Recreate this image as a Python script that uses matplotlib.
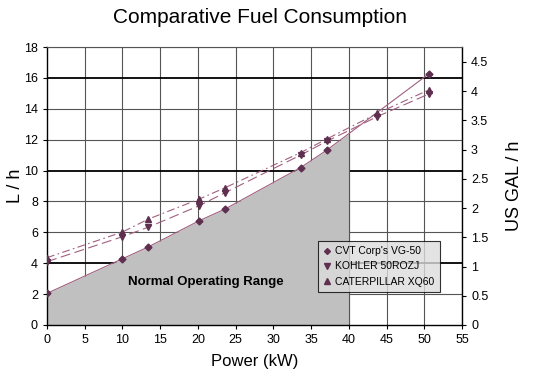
import matplotlib
matplotlib.use('Agg')
import matplotlib.pyplot as plt
from matplotlib.lines import Line2D

# data (power in kW, fuel in L/h)
cvt_kw = [0, 10, 13.4, 20.2, 23.6, 33.6, 37.1, 50.6]
cvt_lph = [2.05, 4.29, 5.05, 6.76, 7.51, 10.19, 11.33, 16.26]

kohler_kw = [0, 10, 13.4, 20.2, 23.6, 33.6, 37.1, 43.8, 50.6]
kohler_lph = [4.1, 5.72, 6.33, 7.73, 8.57, 11.0, 11.9, 13.5, 14.96]

cat_kw = [0, 10, 13.4, 20.2, 23.6, 33.6, 37.1, 43.8, 50.6]
cat_lph = [4.36, 6.02, 6.85, 8.16, 8.89, 11.16, 12.05, 13.71, 15.22]

# shaded "normal operating range" boundary
range_kw = [0, 10, 13.4, 20.2, 23.6, 33.6, 37.1, 40]
range_lph = [2.05, 4.29, 5.05, 6.76, 7.51, 10.19, 11.33, 12.39]

L_PER_GAL = 3.785
x_ticks = list(range(0, 60, 5))
y_ticks = list(range(0, 20, 2))
gal_ticks = [0, 0.5, 1, 1.5, 2, 2.5, 3, 3.5, 4, 4.5]
bold_grid = [4, 10, 16]

plt.rcParams['font.family'] = ['Liberation Sans', 'DejaVu Sans']

fig = plt.figure(figsize=(5.38, 3.81), dpi=100)
ax = fig.add_axes([0.0874, 0.147, 0.7713, 0.7296])

ax.set_xlim(0, 55)
ax.set_ylim(0, 18)

# grid
for x in x_ticks[1:]:
    ax.axvline(x, color='#555555', lw=0.8, zorder=1)
for y in y_ticks[1:]:
    if y in bold_grid:
        ax.axhline(y, color='black', lw=1.3, zorder=1)
    else:
        ax.axhline(y, color='#555555', lw=0.8, zorder=1)

ax.fill_between(range_kw, 0, range_lph, color='#c0c0c0', lw=0, zorder=1.5)
ax.plot([range_kw[-1], range_kw[-1]], [0, range_lph[-1]], color='#555555', lw=0.8, zorder=1.6)

mk = '#5e2f4f'
ln = '#a06080'
ax.plot(cvt_kw, cvt_lph, color=ln, lw=0.8, zorder=3)
ax.plot(kohler_kw, kohler_lph, color=ln, lw=0.8, dashes=(9, 4), zorder=3)
ax.plot(cat_kw, cat_lph, color=ln, lw=0.8, dashes=(7, 3, 1.5, 3), zorder=3)
ax.plot(cvt_kw, cvt_lph, 'D', color=mk, ms=3.5, zorder=4)
ax.plot(kohler_kw, kohler_lph, 'v', color=mk, ms=4.5, zorder=4)
ax.plot(cat_kw, cat_lph, '^', color=mk, ms=4.5, zorder=4)

ax.text(21, 2.8, 'Normal Operating Range', ha='center', va='center',
        fontsize=9.5, fontweight='bold', zorder=5)

ax.set_xticks(x_ticks)
ax.set_yticks(y_ticks)
ax.tick_params(labelsize=9, length=3, direction='out', color='black')
for s in ['left', 'bottom', 'right']:
    ax.spines[s].set_color('black')
    ax.spines[s].set_linewidth(1.0)
ax.spines['top'].set_color('#555555')
ax.spines['top'].set_linewidth(0.8)

ax.set_xlabel('Power (kW)', fontsize=12, labelpad=6)
ax.set_ylabel('L / h', fontsize=13)
ax.yaxis.set_label_coords(-0.055, 0.5)

ax2 = ax.twinx()
ax2.set_ylim(0, 18 / L_PER_GAL)
ax2.set_yticks(gal_ticks)
ax2.set_yticklabels([f'{g:g}' for g in gal_ticks])
ax2.tick_params(labelsize=9, length=3, direction='out')
ax2.set_ylabel('US GAL / h', fontsize=13)
ax2.yaxis.set_label_coords(1.105, 0.5)
for s in ax2.spines.values():
    s.set_visible(False)

handles = [
    Line2D([], [], ls='none', marker='D', color=mk, ms=3, label="CVT Corp's VG-50"),
    Line2D([], [], ls='none', marker='v', color=mk, ms=4, label='KOHLER 50ROZJ'),
    Line2D([], [], ls='none', marker='^', color=mk, ms=4, label='CATERPILLAR XQ60'),
]
leg = ax.legend(handles=handles, loc='upper left', bbox_to_anchor=(0.652, 0.302),
                fontsize=7.5, frameon=True, fancybox=False, handlelength=0.8,
                handletextpad=0.4, borderpad=0.5, labelspacing=0.5,
                borderaxespad=0)
leg.get_frame().set_facecolor('#dcdcdc')
leg.get_frame().set_edgecolor('black')
leg.get_frame().set_linewidth(0.8)
leg.set_zorder(6)

fig.suptitle('Comparative Fuel Consumption', x=0.483, y=0.98, fontsize=15)

fig.savefig('out.png', dpi=100, facecolor='white')
